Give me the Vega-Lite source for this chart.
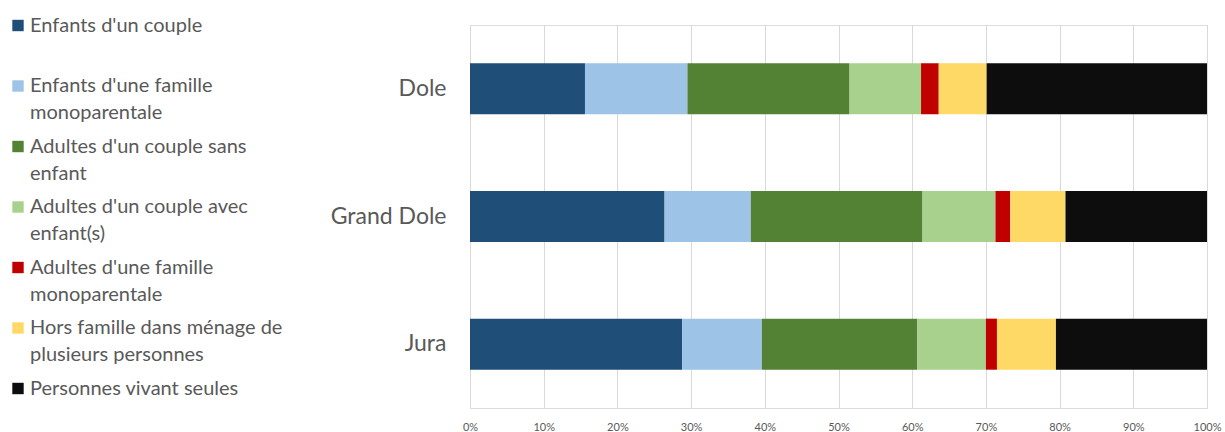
{
  "$schema": "https://vega.github.io/schema/vega-lite/v6.json",
  "width": 737,
  "height": 383,
  "autosize": {"type": "none"},
  "padding": {"left": 470, "top": 25, "right": 18, "bottom": 24},
  "background": "white",
  "data": {
    "values": [
      {"zone": "Dole", "cat": "Enfants d'un couple", "ordre": 1, "pct": 15.6},
      {"zone": "Dole", "cat": "Enfants d'une famille monoparentale", "ordre": 2, "pct": 13.9},
      {"zone": "Dole", "cat": "Adultes d'un couple sans enfant", "ordre": 3, "pct": 22.0},
      {"zone": "Dole", "cat": "Adultes d'un couple avec enfant(s)", "ordre": 4, "pct": 9.7},
      {"zone": "Dole", "cat": "Adultes d'une famille monoparentale", "ordre": 5, "pct": 2.4},
      {"zone": "Dole", "cat": "Hors famille dans ménage de plusieurs personnes", "ordre": 6, "pct": 6.5},
      {"zone": "Dole", "cat": "Personnes vivant seules", "ordre": 7, "pct": 29.9},
      {"zone": "Grand Dole", "cat": "Enfants d'un couple", "ordre": 1, "pct": 26.4},
      {"zone": "Grand Dole", "cat": "Enfants d'une famille monoparentale", "ordre": 2, "pct": 11.7},
      {"zone": "Grand Dole", "cat": "Adultes d'un couple sans enfant", "ordre": 3, "pct": 23.3},
      {"zone": "Grand Dole", "cat": "Adultes d'un couple avec enfant(s)", "ordre": 4, "pct": 9.9},
      {"zone": "Grand Dole", "cat": "Adultes d'une famille monoparentale", "ordre": 5, "pct": 2.0},
      {"zone": "Grand Dole", "cat": "Hors famille dans ménage de plusieurs personnes", "ordre": 6, "pct": 7.5},
      {"zone": "Grand Dole", "cat": "Personnes vivant seules", "ordre": 7, "pct": 19.2},
      {"zone": "Jura", "cat": "Enfants d'un couple", "ordre": 1, "pct": 28.8},
      {"zone": "Jura", "cat": "Enfants d'une famille monoparentale", "ordre": 2, "pct": 10.8},
      {"zone": "Jura", "cat": "Adultes d'un couple sans enfant", "ordre": 3, "pct": 21.1},
      {"zone": "Jura", "cat": "Adultes d'un couple avec enfant(s)", "ordre": 4, "pct": 9.3},
      {"zone": "Jura", "cat": "Adultes d'une famille monoparentale", "ordre": 5, "pct": 1.5},
      {"zone": "Jura", "cat": "Hors famille dans ménage de plusieurs personnes", "ordre": 6, "pct": 8.0},
      {"zone": "Jura", "cat": "Personnes vivant seules", "ordre": 7, "pct": 20.5}
    ]
  },
  "mark": {"type": "bar"},
  "encoding": {
    "y": {
      "field": "zone",
      "type": "nominal",
      "sort": ["Dole", "Grand Dole", "Jura"],
      "scale": {"paddingInner": 0.6, "paddingOuter": 0.3},
      "axis": {
        "title": null,
        "domain": false,
        "ticks": false,
        "labelFont": "Lato",
        "labelFontSize": 23,
        "labelColor": "#595959",
        "labelPadding": 24
      }
    },
    "x": {
      "field": "pct",
      "type": "quantitative",
      "stack": "normalize",
      "scale": {"domain": [0, 1], "nice": false},
      "axis": {
        "title": null,
        "format": ".0%",
        "values": [0, 0.1, 0.2, 0.3, 0.4, 0.5, 0.6, 0.7, 0.8, 0.9, 1],
        "labelOverlap": false,
        "domain": false,
        "ticks": false,
        "grid": true,
        "gridColor": "#d9d9d9",
        "gridWidth": 1,
        "labelFont": "Lato",
        "labelFontSize": 11,
        "labelColor": "#595959",
        "labelPadding": 13,
        "labelFlush": false
      }
    },
    "order": {"field": "ordre", "type": "quantitative"},
    "color": {
      "field": "cat",
      "type": "nominal",
      "scale": {
        "domain": ["Enfants d'un couple", "Enfants d'une famille monoparentale", "Adultes d'un couple sans enfant", "Adultes d'un couple avec enfant(s)", "Adultes d'une famille monoparentale", "Hors famille dans ménage de plusieurs personnes", "Personnes vivant seules"],
        "range": ["#1f4e79", "#9dc3e6", "#548235", "#a9d18e", "#c00000", "#ffd966", "#0d0d0d"]
      },
      "legend": {
        "title": null,
        "orient": "none",
        "legendX": -462,
        "legendY": -9.5,
        "symbolType": "square",
        "symbolSize": 130,
        "symbolStrokeWidth": 0,
        "labelFont": "Lato",
        "labelFontSize": 20,
        "labelColor": "#595959",
        "labelOffset": 2,
        "labelLimit": 400,
        "labelBaseline": "middle",
        "rowPadding": 13.5,
        "gridAlign": "all",
        "encode": {"labels": {"update": {"lineHeight": {"value": 27}}}},
        "labelExpr": "datum.label == \"Enfants d'une famille monoparentale\" ? ['Enfants d\\'une famille', 'monoparentale'] : datum.label == \"Adultes d'un couple sans enfant\" ? ['Adultes d\\'un couple sans', 'enfant'] : datum.label == \"Adultes d'un couple avec enfant(s)\" ? ['Adultes d\\'un couple avec', 'enfant(s)'] : datum.label == \"Adultes d'une famille monoparentale\" ? ['Adultes d\\'une famille', 'monoparentale'] : datum.label == 'Hors famille dans ménage de plusieurs personnes' ? ['Hors famille dans ménage de', 'plusieurs personnes'] : datum.label"
      }
    }
  }
}
